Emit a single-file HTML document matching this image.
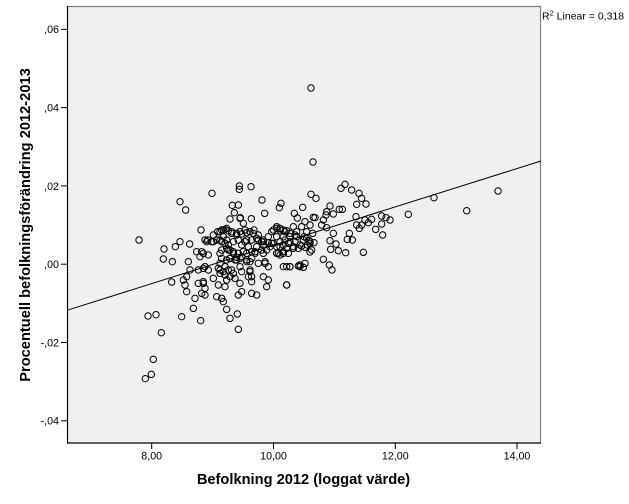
<!DOCTYPE html>
<html><head><meta charset="utf-8"><style>
html,body{margin:0;padding:0;background:#fff;}
svg{display:block;}
text{font-family:"Liberation Sans",Arial,sans-serif;fill:#000;}
</style></head><body>
<svg width="629" height="504" viewBox="0 0 629 504" xmlns="http://www.w3.org/2000/svg">
<rect x="0" y="0" width="629" height="504" fill="#fff"/>
<rect x="67" y="6" width="474" height="437" fill="#f0f0f0"/>
<line x1="67" y1="6.5" x2="541" y2="6.5" stroke="#808080" stroke-width="1.2"/>
<line x1="540.5" y1="6" x2="540.5" y2="443" stroke="#808080" stroke-width="1.2"/>
<line x1="67.5" y1="6" x2="67.5" y2="443.5" stroke="#000" stroke-width="1.2"/>
<line x1="67" y1="443" x2="541" y2="443" stroke="#000" stroke-width="1.2"/>
<g stroke="#000" stroke-width="1">
<line x1="61" y1="29.3" x2="67" y2="29.3"/>
<line x1="61" y1="107.6" x2="67" y2="107.6"/>
<line x1="61" y1="185.9" x2="67" y2="185.9"/>
<line x1="61" y1="264.2" x2="67" y2="264.2"/>
<line x1="61" y1="342.5" x2="67" y2="342.5"/>
<line x1="61" y1="420.8" x2="67" y2="420.8"/>
<line x1="151.7" y1="443" x2="151.7" y2="449"/>
<line x1="273.5" y1="443" x2="273.5" y2="449"/>
<line x1="395.3" y1="443" x2="395.3" y2="449"/>
<line x1="517" y1="443" x2="517" y2="449"/>
</g>
<g font-size="10.7" text-anchor="end">
<text x="59" y="33.2">,06</text>
<text x="59" y="111.5">,04</text>
<text x="59" y="189.8">,02</text>
<text x="59" y="268.1">,00</text>
<text x="59" y="346.4">-,02</text>
<text x="59" y="424.7">-,04</text>
</g>
<g font-size="10.7" text-anchor="middle">
<text x="151.7" y="459.5">8,00</text>
<text x="273.5" y="459.5">10,00</text>
<text x="395.3" y="459.5">12,00</text>
<text x="517" y="459.5">14,00</text>
</g>
<text x="303.5" y="484" font-size="14.67" font-weight="bold" text-anchor="middle">Befolkning 2012 (loggat värde)</text>
<text transform="translate(30,225) rotate(-90)" font-size="14.67" font-weight="bold" text-anchor="middle">Procentuell befolkningsförändring 2012-2013</text>
<text x="542" y="19.5" font-size="10.5">R<tspan font-size="7.5" dy="-4">2</tspan><tspan dy="4"> Linear = 0,318</tspan></text>
<line x1="67" y1="310.3" x2="541" y2="161" stroke="#000" stroke-width="1"/>
<g fill="none" stroke="#000" stroke-width="1">
<circle cx="311" cy="88" r="3.2"/>
<circle cx="313" cy="162" r="3.2"/>
<circle cx="434" cy="197.7" r="3.2"/>
<circle cx="466.7" cy="210.7" r="3.2"/>
<circle cx="498" cy="191" r="3.2"/>
</g>
<g transform="translate(180,170) scale(0.33333)" fill="none" stroke="#000" stroke-width="3">
<circle cx="178" cy="48" r="9.6"/><circle cx="178" cy="58" r="9.6"/><circle cx="213" cy="50" r="9.6"/><circle cx="96" cy="70" r="9.6"/><circle cx="246" cy="90" r="9.6"/><circle cx="17" cy="120" r="9.6"/><circle cx="0" cy="95" r="9.6"/><circle cx="157" cy="106" r="9.6"/><circle cx="175" cy="105" r="9.6"/><circle cx="163" cy="128" r="9.6"/><circle cx="254" cy="130" r="9.6"/><circle cx="303" cy="100" r="9.6"/><circle cx="298" cy="113" r="9.6"/><circle cx="343" cy="130" r="9.6"/><circle cx="352" cy="144" r="9.6"/><circle cx="150" cy="147" r="9.6"/><circle cx="181" cy="143" r="9.6"/><circle cx="190" cy="160" r="9.6"/><circle cx="214" cy="146" r="9.6"/><circle cx="63" cy="180" r="9.6"/>
<circle cx="100" cy="195" r="9.6"/><circle cx="113" cy="185" r="9.6"/><circle cx="125" cy="180" r="9.6"/><circle cx="135" cy="178" r="9.6"/><circle cx="145" cy="182" r="9.6"/><circle cx="155" cy="190" r="9.6"/><circle cx="170" cy="195" r="9.6"/><circle cx="185" cy="192" r="9.6"/><circle cx="200" cy="188" r="9.6"/><circle cx="210" cy="185" r="9.6"/><circle cx="222" cy="180" r="9.6"/><circle cx="235" cy="195" r="9.6"/><circle cx="250" cy="210" r="9.6"/><circle cx="265" cy="200" r="9.6"/><circle cx="280" cy="180" r="9.6"/><circle cx="290" cy="170" r="9.6"/><circle cx="300" cy="175" r="9.6"/><circle cx="310" cy="180" r="9.6"/><circle cx="320" cy="182" r="9.6"/><circle cx="340" cy="170" r="9.6"/><circle cx="350" cy="185" r="9.6"/>
<circle cx="75" cy="210" r="9.6"/><circle cx="83" cy="210" r="9.6"/><circle cx="95" cy="215" r="9.6"/><circle cx="110" cy="210" r="9.6"/><circle cx="125" cy="215" r="9.6"/><circle cx="140" cy="210" r="9.6"/><circle cx="160" cy="215" r="9.6"/><circle cx="175" cy="210" r="9.6"/><circle cx="200" cy="210" r="9.6"/><circle cx="215" cy="210" r="9.6"/><circle cx="230" cy="205" r="9.6"/><circle cx="245" cy="215" r="9.6"/><circle cx="265" cy="218" r="9.6"/><circle cx="280" cy="220" r="9.6"/><circle cx="300" cy="215" r="9.6"/><circle cx="315" cy="210" r="9.6"/><circle cx="330" cy="215" r="9.6"/><circle cx="345" cy="215" r="9.6"/>
<circle cx="0" cy="215" r="9.6"/><circle cx="29" cy="222" r="9.6"/>
<circle cx="50" cy="245" r="9.6"/><circle cx="65" cy="245" r="9.6"/><circle cx="60" cy="260" r="9.6"/><circle cx="85" cy="255" r="9.6"/><circle cx="125" cy="240" r="9.6"/><circle cx="140" cy="235" r="9.6"/><circle cx="150" cy="240" r="9.6"/><circle cx="160" cy="250" r="9.6"/><circle cx="170" cy="262" r="9.6"/><circle cx="185" cy="225" r="9.6"/><circle cx="190" cy="245" r="9.6"/><circle cx="205" cy="230" r="9.6"/><circle cx="215" cy="245" r="9.6"/><circle cx="225" cy="250" r="9.6"/><circle cx="245" cy="240" r="9.6"/><circle cx="260" cy="240" r="9.6"/><circle cx="270" cy="230" r="9.6"/><circle cx="290" cy="250" r="9.6"/><circle cx="300" cy="255" r="9.6"/><circle cx="310" cy="245" r="9.6"/><circle cx="325" cy="250" r="9.6"/><circle cx="340" cy="235" r="9.6"/><circle cx="355" cy="235" r="9.6"/>
<circle cx="125" cy="265" r="9.6"/><circle cx="140" cy="270" r="9.6"/><circle cx="150" cy="265" r="9.6"/><circle cx="165" cy="270" r="9.6"/><circle cx="180" cy="265" r="9.6"/><circle cx="200" cy="270" r="9.6"/><circle cx="210" cy="275" r="9.6"/><circle cx="235" cy="280" r="9.6"/><circle cx="255" cy="275" r="9.6"/><circle cx="265" cy="290" r="9.6"/><circle cx="310" cy="290" r="9.6"/><circle cx="330" cy="290" r="9.6"/><circle cx="355" cy="288" r="9.6"/>
<circle cx="25" cy="275" r="9.6"/><circle cx="30" cy="300" r="9.6"/><circle cx="20" cy="320" r="9.6"/><circle cx="10" cy="330" r="9.6"/><circle cx="55" cy="300" r="9.6"/><circle cx="70" cy="295" r="9.6"/><circle cx="85" cy="300" r="9.6"/><circle cx="100" cy="325" r="9.6"/><circle cx="115" cy="295" r="9.6"/><circle cx="120" cy="310" r="9.6"/><circle cx="135" cy="315" r="9.6"/><circle cx="150" cy="320" r="9.6"/><circle cx="165" cy="325" r="9.6"/><circle cx="185" cy="305" r="9.6"/><circle cx="210" cy="300" r="9.6"/><circle cx="215" cy="320" r="9.6"/><circle cx="250" cy="320" r="9.6"/><circle cx="265" cy="330" r="9.6"/><circle cx="260" cy="350" r="9.6"/><circle cx="320" cy="345" r="9.6"/>
<circle cx="15" cy="345" r="9.6"/><circle cx="20" cy="365" r="9.6"/><circle cx="55" cy="340" r="9.6"/><circle cx="70" cy="340" r="9.6"/><circle cx="75" cy="355" r="9.6"/><circle cx="65" cy="370" r="9.6"/><circle cx="75" cy="375" r="9.6"/><circle cx="115" cy="345" r="9.6"/><circle cx="135" cy="350" r="9.6"/><circle cx="180" cy="340" r="9.6"/><circle cx="185" cy="365" r="9.6"/><circle cx="175" cy="375" r="9.6"/><circle cx="215" cy="370" r="9.6"/><circle cx="230" cy="375" r="9.6"/><circle cx="45" cy="385" r="9.6"/><circle cx="110" cy="380" r="9.6"/><circle cx="125" cy="385" r="9.6"/><circle cx="130" cy="395" r="9.6"/>
<circle cx="40" cy="415" r="9.6"/><circle cx="140" cy="418" r="9.6"/><circle cx="150" cy="445" r="9.6"/><circle cx="172" cy="432" r="9.6"/><circle cx="62" cy="452" r="9.6"/><circle cx="5" cy="440" r="9.6"/><circle cx="175" cy="478" r="9.6"/>
<circle cx="130" cy="200" r="9.6"/><circle cx="145" cy="225" r="9.6"/><circle cx="120" cy="250" r="9.6"/><circle cx="135" cy="290" r="9.6"/><circle cx="155" cy="300" r="9.6"/><circle cx="200" cy="250" r="9.6"/><circle cx="205" cy="320" r="9.6"/><circle cx="215" cy="335" r="9.6"/><circle cx="140" cy="330" r="9.6"/><circle cx="120" cy="280" r="9.6"/><circle cx="180" cy="290" r="9.6"/><circle cx="195" cy="215" r="9.6"/><circle cx="230" cy="230" r="9.6"/><circle cx="250" cy="225" r="9.6"/><circle cx="290" cy="200" r="9.6"/><circle cx="310" cy="200" r="9.6"/><circle cx="330" cy="200" r="9.6"/><circle cx="345" cy="195" r="9.6"/><circle cx="300" cy="230" r="9.6"/><circle cx="320" cy="235" r="9.6"/>
</g>
<g transform="translate(200,200) scale(0.33333)" fill="none" stroke="#000" stroke-width="3">
<circle cx="60" cy="95" r="9.6"/><circle cx="70" cy="90" r="9.6"/><circle cx="80" cy="85" r="9.6"/><circle cx="95" cy="95" r="9.6"/><circle cx="110" cy="100" r="9.6"/><circle cx="120" cy="95" r="9.6"/><circle cx="135" cy="90" r="9.6"/><circle cx="150" cy="95" r="9.6"/><circle cx="160" cy="100" r="9.6"/><circle cx="175" cy="120" r="9.6"/><circle cx="190" cy="125" r="9.6"/><circle cx="215" cy="95" r="9.6"/><circle cx="230" cy="85" r="9.6"/><circle cx="240" cy="90" r="9.6"/><circle cx="255" cy="95" r="9.6"/><circle cx="270" cy="100" r="9.6"/><circle cx="290" cy="110" r="9.6"/><circle cx="310" cy="120" r="9.6"/><circle cx="330" cy="125" r="9.6"/><circle cx="215" cy="130" r="9.6"/><circle cx="230" cy="140" r="9.6"/><circle cx="250" cy="135" r="9.6"/><circle cx="265" cy="130" r="9.6"/><circle cx="280" cy="140" r="9.6"/><circle cx="300" cy="135" r="9.6"/><circle cx="60" cy="120" r="9.6"/><circle cx="75" cy="130" r="9.6"/><circle cx="85" cy="150" r="9.6"/><circle cx="100" cy="155" r="9.6"/><circle cx="115" cy="160" r="9.6"/><circle cx="90" cy="175" r="9.6"/><circle cx="110" cy="180" r="9.6"/><circle cx="125" cy="170" r="9.6"/><circle cx="140" cy="185" r="9.6"/><circle cx="155" cy="175" r="9.6"/><circle cx="165" cy="155" r="9.6"/><circle cx="190" cy="160" r="9.6"/><circle cx="235" cy="160" r="9.6"/><circle cx="250" cy="160" r="9.6"/><circle cx="60" cy="210" r="9.6"/><circle cx="70" cy="215" r="9.6"/><circle cx="85" cy="210" r="9.6"/><circle cx="100" cy="220" r="9.6"/><circle cx="150" cy="215" r="9.6"/><circle cx="10" cy="160" r="9.6"/><circle cx="15" cy="200" r="9.6"/><circle cx="10" cy="245" r="9.6"/><circle cx="195" cy="190" r="9.6"/><circle cx="260" cy="200" r="9.6"/><circle cx="270" cy="200" r="9.6"/><circle cx="300" cy="195" r="9.6"/><circle cx="260" cy="255" r="9.6"/><circle cx="20" cy="125" r="9.6"/><circle cx="40" cy="125" r="9.6"/><circle cx="120" cy="55" r="9.6"/>
</g>
<g transform="translate(300,170) scale(0.33333)" fill="none" stroke="#000" stroke-width="3">
<circle cx="135" cy="43" r="9.6"/><circle cx="123" cy="55" r="9.6"/><circle cx="155" cy="60" r="9.6"/><circle cx="177" cy="70" r="9.6"/><circle cx="185" cy="85" r="9.6"/><circle cx="198" cy="102" r="9.6"/><circle cx="170" cy="103" r="9.6"/><circle cx="33" cy="73" r="9.6"/><circle cx="48" cy="85" r="9.6"/><circle cx="90" cy="108" r="9.6"/><circle cx="80" cy="125" r="9.6"/><circle cx="78" cy="135" r="9.6"/><circle cx="100" cy="132" r="9.6"/><circle cx="118" cy="118" r="9.6"/><circle cx="127" cy="118" r="9.6"/><circle cx="168" cy="140" r="9.6"/><circle cx="215" cy="148" r="9.6"/><circle cx="195" cy="150" r="9.6"/><circle cx="205" cy="158" r="9.6"/><circle cx="185" cy="165" r="9.6"/><circle cx="178" cy="175" r="9.6"/><circle cx="170" cy="165" r="9.6"/><circle cx="245" cy="138" r="9.6"/><circle cx="258" cy="143" r="9.6"/><circle cx="270" cy="150" r="9.6"/><circle cx="227" cy="178" r="9.6"/><circle cx="245" cy="162" r="9.6"/><circle cx="248" cy="195" r="9.6"/><circle cx="325" cy="133" r="9.6"/>
<circle cx="40" cy="142" r="9.6"/><circle cx="45" cy="143" r="9.6"/><circle cx="30" cy="165" r="9.6"/><circle cx="70" cy="150" r="9.6"/><circle cx="65" cy="165" r="9.6"/><circle cx="80" cy="173" r="9.6"/><circle cx="100" cy="190" r="9.6"/><circle cx="148" cy="190" r="9.6"/><circle cx="142" cy="208" r="9.6"/><circle cx="157" cy="210" r="9.6"/><circle cx="90" cy="212" r="9.6"/><circle cx="108" cy="222" r="9.6"/><circle cx="92" cy="238" r="9.6"/><circle cx="115" cy="242" r="9.6"/><circle cx="137" cy="248" r="9.6"/><circle cx="190" cy="247" r="9.6"/><circle cx="30" cy="220" r="9.6"/><circle cx="35" cy="240" r="9.6"/><circle cx="30" cy="246" r="9.6"/><circle cx="70" cy="268" r="9.6"/><circle cx="88" cy="285" r="9.6"/><circle cx="96" cy="300" r="9.6"/>
<circle cx="8" cy="112" r="9.6"/><circle cx="15" cy="155" r="9.6"/><circle cx="5" cy="170" r="9.6"/><circle cx="20" cy="205" r="9.6"/><circle cx="15" cy="232" r="9.6"/><circle cx="5" cy="228" r="9.6"/><circle cx="15" cy="280" r="9.6"/><circle cx="10" cy="292" r="9.6"/><circle cx="0" cy="290" r="9.6"/>
<circle cx="20" cy="185" r="9.6"/><circle cx="38" cy="190" r="9.6"/><circle cx="12" cy="200" r="9.6"/><circle cx="28" cy="212" r="9.6"/><circle cx="42" cy="218" r="9.6"/><circle cx="22" cy="225" r="9.6"/>
</g>
<g transform="translate(130,230) scale(0.33333)" fill="none" stroke="#000" stroke-width="3">
<circle cx="27" cy="30" r="9.6"/><circle cx="102" cy="57" r="9.6"/><circle cx="136" cy="50" r="9.6"/><circle cx="100" cy="87" r="9.6"/><circle cx="127" cy="95" r="9.6"/><circle cx="125" cy="156" r="9.6"/><circle cx="54" cy="258" r="9.6"/><circle cx="78" cy="254" r="9.6"/><circle cx="94" cy="308" r="9.6"/><circle cx="70" cy="388" r="9.6"/><circle cx="64" cy="433" r="9.6"/><circle cx="46" cy="446" r="9.6"/>
</g>
</svg>
</body></html>
